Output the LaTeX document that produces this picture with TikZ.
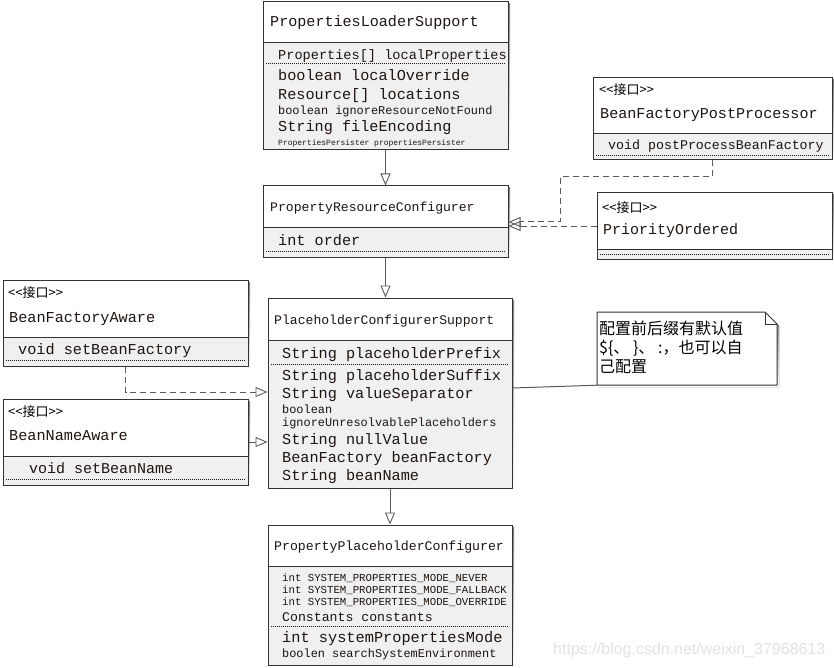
\documentclass[tikz,border=0pt]{standalone}
\usepackage{fontspec}
\setmainfont{Liberation Sans}
\setmonofont{Liberation Mono}
\newfontfamily\cjk{Noto Sans CJK SC}
\usetikzlibrary{arrows.meta,fit}

\definecolor{ink}{HTML}{1E1410}
\definecolor{frame}{HTML}{333333}
\definecolor{attrfill}{HTML}{F0F0F0}
\definecolor{conn}{HTML}{5A5A5A}
\definecolor{shade}{HTML}{9A9A9A}
\definecolor{mark}{HTML}{E2E2E2}

% class box: name, left, top, right, bottom, y of the title/attribute divider
\newcommand\umlclass[6]{%
  \fill[shade] ({#2+2},{#3+2}) rectangle ({#4+2},{#5+2});
  \fill[white] (#2,#3) rectangle (#4,#6);
  \fill[attrfill] (#2,#6) rectangle (#4,#5);
  \draw[divider] (#2,#6) -- (#4,#6);
  \node[classframe, fit={(#2,#3) (#4,#5)}] (#1) {};
}
% dotted line that closes an attribute group
\newcommand\dotrule[3]{\draw[dotrule] (#1,#3) -- (#2,#3);}

\begin{document}
\begin{tikzpicture}[x=1pt,y=-1pt,
  classframe/.style={draw=frame, line width=1pt, inner sep=0pt},
  divider/.style={draw=frame, line width=1pt},
  dotrule/.style={draw=ink, line width=0.8pt, dash pattern=on 1pt off 1pt},
  mono/.style={anchor=west, inner sep=0pt, text height=0.7em, text depth=0.25em,
    yshift=-2.5pt, text=ink, font=\ttfamily\fontsize{#1}{#1}\selectfont},
  stereo/.style={anchor=west, inner sep=0pt, text height=0.8em, text depth=0.2em,
    yshift=-2pt, text=black, font=\cjk\fontsize{13}{13}\selectfont},
  notetext/.style={anchor=west, inner sep=0pt, text height=0.8em, text depth=0.2em,
    yshift=-2.5pt, text=black, font=\cjk\fontsize{16}{16}\selectfont},
  generalize/.style={draw=conn, line width=1pt,
    -{Triangle[open,length=12pt,width=10pt,line width=0.9pt]}},
  realize/.style={generalize, dash pattern=on 6pt off 4pt},
  noteline/.style={draw=conn, line width=1pt},
]
\useasboundingbox[fill=white] (0,0) rectangle (834,668);

% ---------- PropertiesLoaderSupport ----------
\umlclass{pls}{263}{2}{508}{150}{43}
\node[mono=15.1] (pls-t) at (270,22) {PropertiesLoaderSupport};
\node[mono=13.6] (pls-a1) at (278,55) {Properties[] localProperties};
\dotrule{266}{505}{63}
\node[mono=15.2] (pls-a2) at (278,76) {boolean localOverride};
\node[mono=15.2] (pls-a3) at (278,95) {Resource[] locations};
\node[mono=11.9] (pls-a4) at (278,110) {boolean ignoreResourceNotFound};
\node[mono=15.2] (pls-a5) at (278,127) {String fileEncoding};
\node[mono=8] (pls-a6) at (278,141) {PropertiesPersister propertiesPersister};

% ---------- PropertyResourceConfigurer ----------
\umlclass{prc}{263}{186}{508}{257}{227}
\node[mono=13.1] (prc-t) at (270,207) {PropertyResourceConfigurer};
\node[mono=15.2] (prc-a1) at (278,241) {int order};
\dotrule{266}{505}{251}

% ---------- BeanFactoryPostProcessor ----------
\umlclass{bfpp}{593}{78}{832}{160}{134}
\node[stereo] (bfpp-s) at (599,90) {<<接口>>};
\node[mono=15.1] (bfpp-t) at (600,114) {BeanFactoryPostProcessor};
\node[mono=13.3] (bfpp-m) at (608,145) {void postProcessBeanFactory};
\dotrule{596}{829}{155}

% ---------- PriorityOrdered ----------
\umlclass{po}{597}{193}{832}{259}{249}
\node[stereo] (po-s) at (602,207) {<<接口>>};
\node[mono=15] (po-t) at (603,230) {PriorityOrdered};
\dotrule{600}{829}{254}

% ---------- BeanFactoryAware ----------
\umlclass{bfa}{3}{280}{248}{366}{337}
\node[stereo] (bfa-s) at (8,292) {<<接口>>};
\node[mono=15.2] (bfa-t) at (9,318) {BeanFactoryAware};
\node[mono=15.2] (bfa-m) at (18,350) {void setBeanFactory};
\dotrule{6}{245}{360}

% ---------- BeanNameAware ----------
\umlclass{bna}{3}{399}{248}{485}{456}
\node[stereo] (bna-s) at (8,411) {<<接口>>};
\node[mono=15.2] (bna-t) at (9,436) {BeanNameAware};
\node[mono=15] (bna-m) at (29,469) {void setBeanName};
\dotrule{6}{245}{479}

% ---------- PlaceholderConfigurerSupport ----------
\umlclass{pcs}{268}{298}{512}{488}{340}
\node[mono=13.1] (pcs-t) at (274,320) {PlaceholderConfigurerSupport};
\node[mono=15.2] (pcs-a1) at (282,354) {String placeholderPrefix};
\dotrule{271}{509}{364}
\node[mono=15.2] (pcs-a2) at (282,376) {String placeholderSuffix};
\node[mono=15.2] (pcs-a3) at (282,394) {String valueSeparator};
\node[mono=11.9] (pcs-a4) at (282,409) {boolean};
\node[mono=11.9] (pcs-a5) at (282,422) {ignoreUnresolvablePlaceholders};
\node[mono=15.2] (pcs-a6) at (282,440) {String nullValue};
\node[mono=15.2] (pcs-a7) at (282,458) {BeanFactory beanFactory};
\node[mono=15.2] (pcs-a8) at (282,476) {String beanName};

% ---------- PropertyPlaceholderConfigurer ----------
\umlclass{ppc}{268}{525}{512}{665}{566}
\node[mono=13.2] (ppc-t) at (274,546) {PropertyPlaceholderConfigurer};
\node[mono=10.7] (ppc-a1) at (282,577) {int SYSTEM\_PROPERTIES\_MODE\_NEVER};
\node[mono=10.7] (ppc-a2) at (282,589) {int SYSTEM\_PROPERTIES\_MODE\_FALLBACK};
\node[mono=10.7] (ppc-a3) at (282,601) {int SYSTEM\_PROPERTIES\_MODE\_OVERRIDE};
\node[mono=13.2] (ppc-a4) at (282,617) {Constants constants};
\dotrule{271}{509}{626}
\node[mono=15.3] (ppc-a5) at (282,638) {int systemPropertiesMode};
\node[mono=11.9] (ppc-a6) at (282,653) {boolen searchSystemEnvironment};

% ---------- note with folded corner ----------
\fill[shade] (599,314) -- (767,314) -- (779,326) -- (779,387) -- (599,387) -- cycle;
\filldraw[fill=white, draw=frame, line width=1pt]
  (597,312) -- (765,312) -- (777,324) -- (777,385) -- (597,385) -- cycle;
\draw[frame, line width=0.8pt] (765,312) -- (765,324) -- (777,324);
\node[inner sep=0pt, fit={(597,312) (777,385)}] (note) {};
\node[notetext] (note-l1) at (599,329) {配置前后缀有默认值};
\node[notetext] (note-l2) at (599,348) {\$\{、 \}、 :，也可以自};
\node[notetext] (note-l3) at (599,367) {己配置};

% ---------- connectors ----------
\draw[generalize] (pls.south) -- (prc.north);
\coordinate (bfppBend) at (560,177);
\coordinate (prcIn) at (560,222);
\draw[realize] (bfpp.south) |- (bfppBend) -- (prcIn) -- (prcIn -| prc.east);
\draw[realize] (po.west) -- (po.west -| prc.east);
\draw[generalize] (prc.south) -- (prc.south |- pcs.north);
\coordinate (bfaBend) at (125,392);
\draw[realize] (bfa.south) |- (bfaBend -| pcs.west);
\draw[generalize] (bna.east) -- (bna.east -| pcs.west);
\coordinate (noteFoot) at (0,388);
\draw[noteline] (pcs.east |- noteFoot) -- (note.south west);
\draw[generalize] (pcs.south) -- (ppc.north);

% ---------- watermark ----------
\node[anchor=west, inner sep=0pt, text=mark, font=\fontsize{16}{16}\selectfont]
  (mark) at (553,650) {https://blog.csdn.net/weixin\_37968613};
\end{tikzpicture}
\end{document}
